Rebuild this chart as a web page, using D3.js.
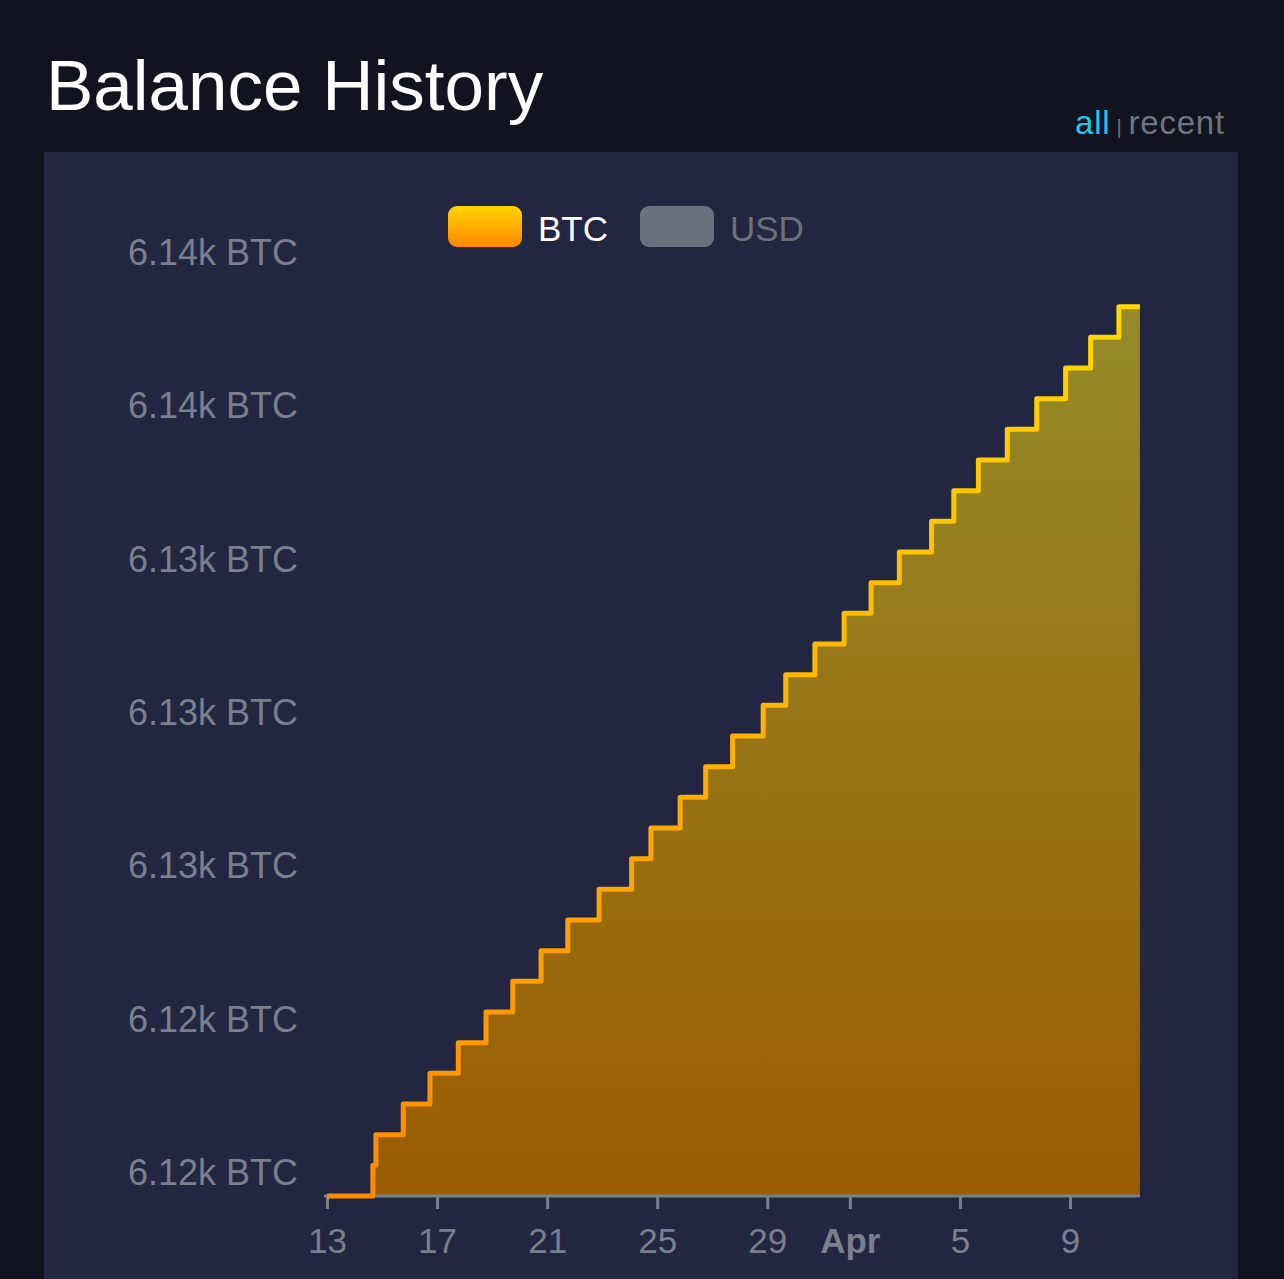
<!DOCTYPE html>
<html>
<head>
<meta charset="utf-8">
<script src="https://cdn.jsdelivr.net/npm/d3@7"></script>
<style>
  body { margin: 0; background: #11131f; }
  svg { display: block; }
</style>
</head>
<body>
<svg id="chart" width="1284" height="1279"></svg>
<script>
// balance steps (UTC time of each change, BTC balance after it)
let times = [
    '2019-03-13T00:00', '2019-03-14T16:00', '2019-03-14T18:40', '2019-03-15T18:30',
    '2019-03-16T17:50', '2019-03-17T18:30', '2019-03-18T18:40', '2019-03-19T18:00',
    '2019-03-20T18:40', '2019-03-21T18:00', '2019-03-22T21:20', '2019-03-24T01:40',
    '2019-03-24T18:30', '2019-03-25T20:00', '2019-03-26T18:15', '2019-03-27T17:45',
    '2019-03-28T20:25', '2019-03-29T16:05', '2019-03-30T17:30', '2019-03-31T19:00',
    '2019-04-01T18:30', '2019-04-02T19:10', '2019-04-03T23:15', '2019-04-04T18:40',
    '2019-04-05T16:05', '2019-04-06T17:20', '2019-04-07T19:00', '2019-04-08T20:10',
    '2019-04-09T18:00', '2019-04-10T18:40', '2019-04-11T13:00'
];
let balances = [
    6117.4, 6118.2, 6119.0, 6119.8,
    6120.6, 6121.4, 6122.2, 6123.0,
    6123.8, 6124.6, 6125.4, 6126.2,
    6127.0, 6127.8, 6128.6, 6129.4,
    6130.2, 6131.0, 6131.8, 6132.6,
    6133.4, 6134.2, 6135.0, 6135.8,
    6136.6, 6137.4, 6138.2, 6139.0,
    6139.8, 6140.6, 6140.6
];
let yTicks = [6118, 6122, 6126, 6130, 6134, 6138, 6142];
let xTicks = ['2019-03-13', '2019-03-17', '2019-03-21', '2019-03-25', '2019-03-29', '2019-04-01', '2019-04-05', '2019-04-09'];
let legendNames = ['BTC', 'USD'];

let parse = d3.utcParse('%Y-%m-%dT%H:%M');
let parseDay = d3.utcParse('%Y-%m-%d');
let data = times.map((t, i) => ({'date': parse(t), 'value': balances[i]}));

let svg = d3.select('#chart');
let font = '"Liberation Sans", Arial, sans-serif';

// page ---------------------------------------------------------------------
svg.append('rect').attr('width', 1284).attr('height', 1279).attr('fill', '#11131f');
svg.append('rect').attr('x', 44).attr('y', 152).attr('width', 1194).attr('height', 1140).attr('fill', '#232640');

svg.append('text').attr('x', 46).attr('y', 110)
    .attr('font-family', font).attr('font-size', 71).attr('fill', '#ffffff')
    .text('Balance History');

let sw = svg.append('text').attr('x', 1225).attr('y', 134).attr('text-anchor', 'end')
    .attr('font-family', font).attr('font-size', 33).attr('letter-spacing', 0.8);
sw.append('tspan').attr('fill', '#1ec8ec').text('all');
sw.append('tspan').attr('fill', '#6f7482').attr('font-size', 20).attr('dx', 6).text('|');
sw.append('tspan').attr('fill', '#6f7482').attr('dx', 6).text('recent');

// gradients ----------------------------------------------------------------
let defs = svg.append('defs');
let lineGrad = defs.append('linearGradient').attr('id', 'lineGrad')
    .attr('gradientUnits', 'userSpaceOnUse').attr('x1', 0).attr('x2', 0).attr('y1', 1196).attr('y2', 306);
lineGrad.append('stop').attr('offset', 0).attr('stop-color', '#ff8a00');
lineGrad.append('stop').attr('offset', 1).attr('stop-color', '#ffd700');

let areaGrad = defs.append('linearGradient').attr('id', 'areaGrad')
    .attr('gradientUnits', 'userSpaceOnUse').attr('x1', 0).attr('x2', 0).attr('y1', 1196).attr('y2', 306);
areaGrad.append('stop').attr('offset', 0).attr('stop-color', '#9a5c00');
areaGrad.append('stop').attr('offset', 1).attr('stop-color', '#958b2a');

let legGrad = defs.append('linearGradient').attr('id', 'legGrad')
    .attr('x1', 0).attr('x2', 0).attr('y1', 0).attr('y2', 1);
legGrad.append('stop').attr('offset', 0).attr('stop-color', '#ffd500');
legGrad.append('stop').attr('offset', 1).attr('stop-color', '#ff8800');

// scales -------------------------------------------------------------------
let x = d3.scaleUtc()
    .domain([parseDay('2019-03-13'), parseDay('2019-04-09')])
    .range([327, 1070]);
let y = d3.scaleLinear()
    .domain([6118, 6142])
    .range([1173, 253]);
let yBase = y(d3.min(balances));

// area + line --------------------------------------------------------------
let area = d3.area()
    .curve(d3.curveStepAfter)
    .x((d) => x(d.date))
    .y0(yBase)
    .y1((d) => y(d.value));
let line = d3.line()
    .curve(d3.curveStepAfter)
    .x((d) => x(d.date))
    .y((d) => y(d.value));

svg.append('path').datum(data)
    .attr('fill', 'url(#areaGrad)')
    .attr('d', area);

// axes ---------------------------------------------------------------------
let xAxis = d3.axisBottom(x)
    .tickValues(xTicks.map(parseDay))
    .tickSize(13)
    .tickPadding(19)
    .tickFormat((d) => d.getUTCDate() === 1 ? d3.utcFormat('%b')(d) : d.getUTCDate());
let gx = svg.append('g').attr('transform', 'translate(0,' + yBase + ')').call(xAxis);
gx.select('.domain').remove();
gx.append('line')
    .attr('x1', x(data[0].date) - 3).attr('x2', x(data[data.length - 1].date))
    .attr('stroke', '#7a7f8e').attr('stroke-width', 3);
gx.selectAll('.tick line').attr('stroke', '#7a7f8e').attr('stroke-width', 3);
gx.selectAll('.tick text')
    .attr('font-family', font).attr('font-size', 35).attr('fill', '#7a7f8e')
    .attr('font-weight', (d) => d.getUTCDate() === 1 ? 'bold' : 'normal');

let yAxis = d3.axisLeft(y)
    .tickValues(yTicks)
    .tickSize(0)
    .tickPadding(0)
    .tickFormat((d) => d3.format('.3s')(d) + ' BTC');
let gy = svg.append('g').attr('transform', 'translate(298,0)').call(yAxis);
gy.select('.domain').remove();
gy.selectAll('.tick text')
    .attr('font-family', font).attr('font-size', 36).attr('fill', '#7a7f8e');

svg.append('path').datum(data)
    .attr('fill', 'none')
    .attr('stroke', 'url(#lineGrad)')
    .attr('stroke-width', 5)
    .attr('stroke-linejoin', 'round')
    .attr('d', line);

// legend -------------------------------------------------------------------
let legend = svg.append('g').attr('transform', 'translate(448,206)');
legendNames.map((name, i) => {
    let g = legend.append('g').attr('transform', 'translate(' + (i * 192) + ',0)');
    g.append('rect').attr('width', 74).attr('height', 41).attr('rx', 9)
        .attr('fill', i === 0 ? 'url(#legGrad)' : '#6b717c');
    g.append('text').attr('x', 90).attr('y', 35)
        .attr('font-family', font).attr('font-size', 35)
        .attr('fill', i === 0 ? '#ffffff' : '#6b717c')
        .text(name);
});
</script>
</body>
</html>
